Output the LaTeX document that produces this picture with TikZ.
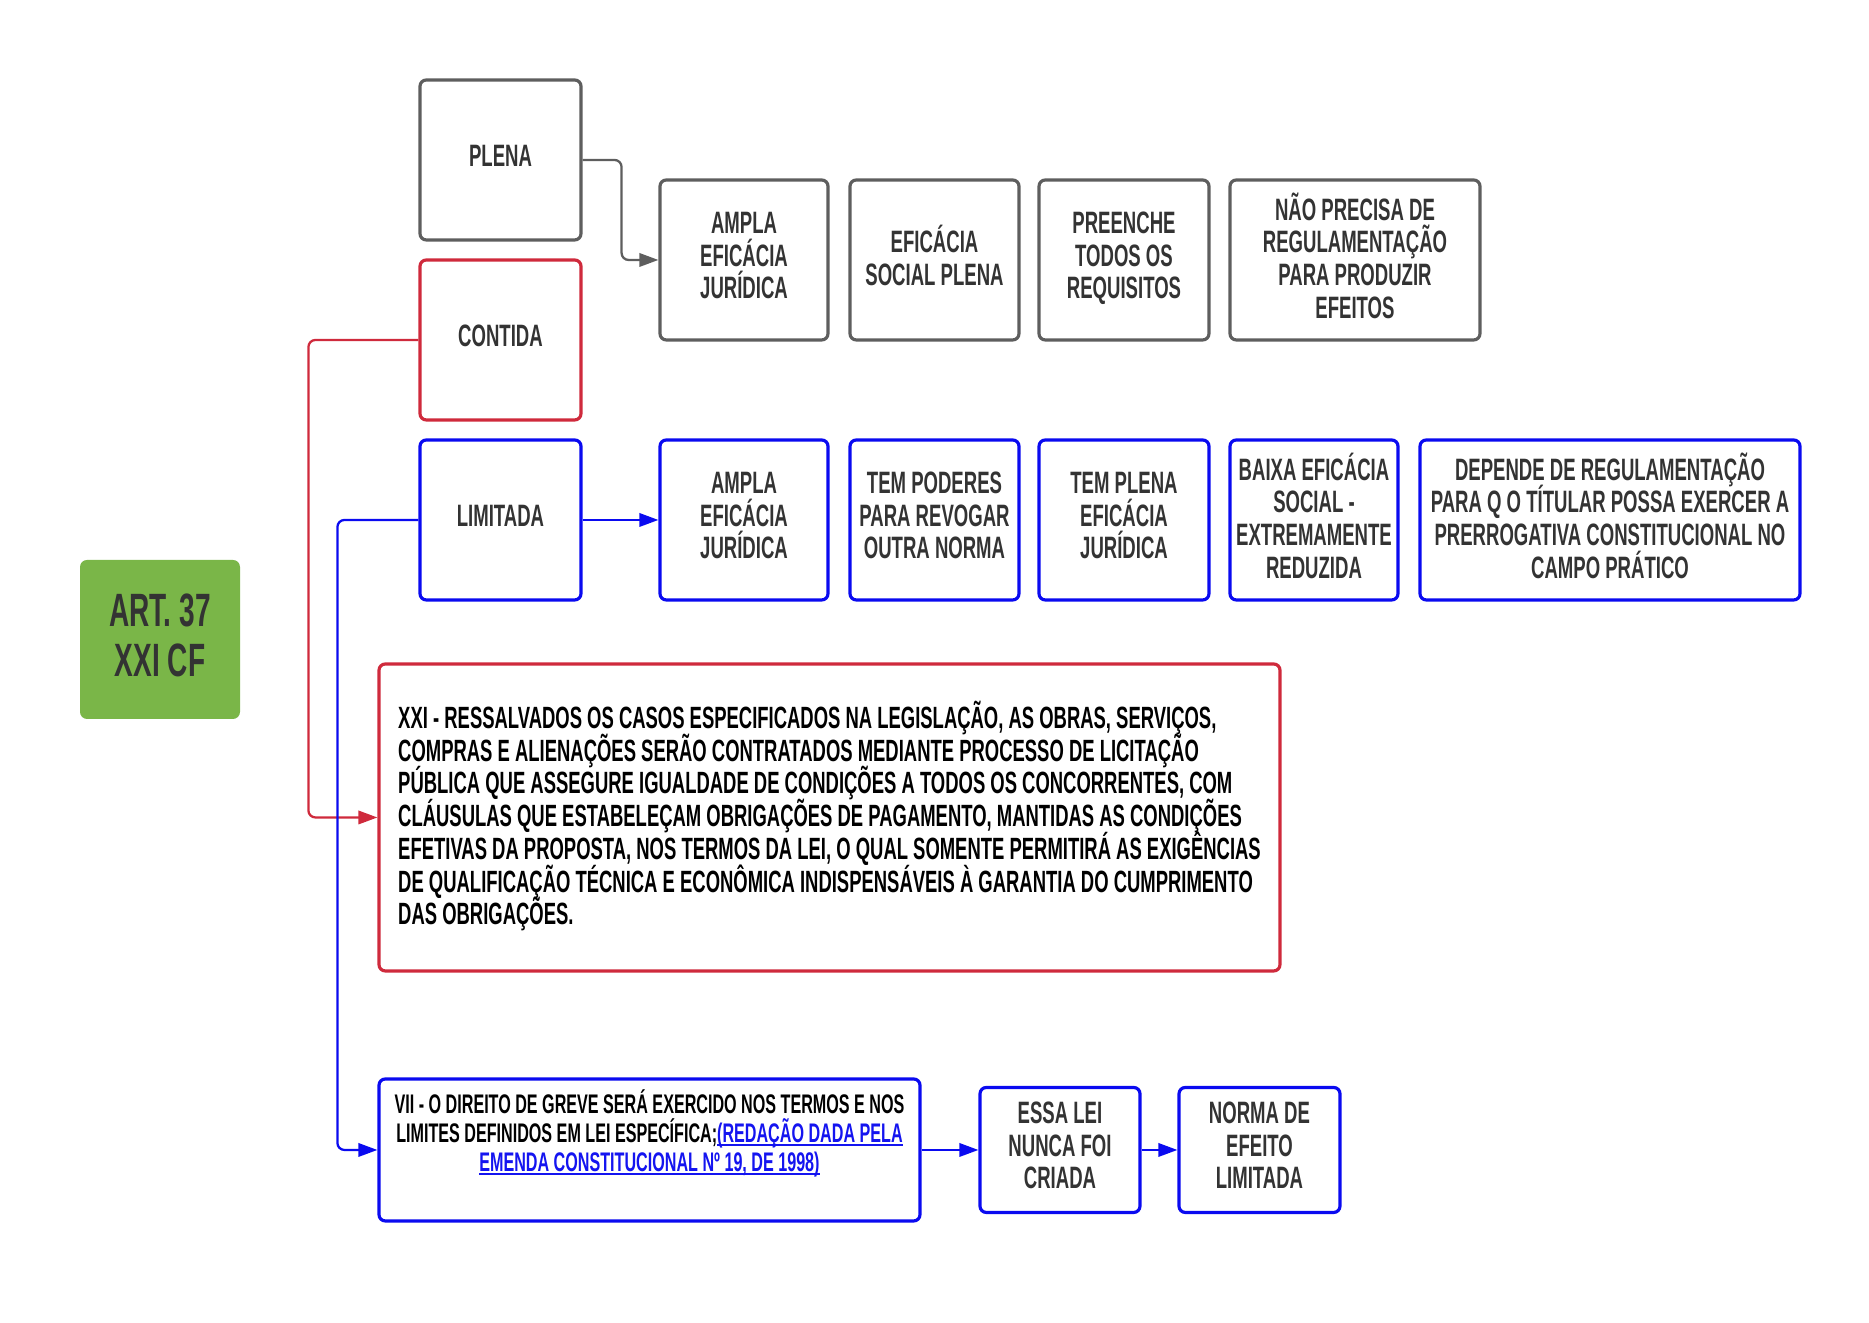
\documentclass[tikz,border=0pt]{standalone}
\usepackage{fontspec}
\setmainfont{Liberation Sans}[FakeStretch=0.6]
\usetikzlibrary{arrows.meta}

\definecolor{artGreen}{HTML}{7AB648}
\definecolor{boxGray}{HTML}{5E5E5E}
\definecolor{boxRed}{HTML}{CF2A3C}
\definecolor{boxBlue}{HTML}{0A0AF0}
\definecolor{txtGray}{HTML}{333333}
\definecolor{linkBlue}{HTML}{1414F0}

% fixed line pitch, even with accented capitals
\newcommand\tightlines{\lineskiplimit=-10pt\relax}
% underlined link text, rule just under the baseline
\newcommand\linktxt[1]{\setbox0\hbox{#1}\rlap{\rule[-1.1pt]{\wd0}{0.5pt}}\box0}

\begin{document}
\begin{tikzpicture}[
    box/.style={draw, line width=0.9pt, rounded corners=1.8pt, fill=white,
        align=center, inner sep=1pt, text=txtGray, text depth=2.6pt,
        font=\bfseries\fontsize{8.8}{9.3}\selectfont\tightlines},
    graybox/.style={box, draw=boxGray, minimum height=1.6cm},
    redbox/.style={box, draw=boxRed},
    bluebox/.style={box, draw=boxBlue},
    conn/.style={line width=0.65pt, rounded corners=2pt,
        -{Triangle[length=5.4pt, width=3.8pt]}},
    garr/.style={conn, boxGray},
    rarr/.style={conn, boxRed},
    barr/.style={conn, boxBlue},
]
\useasboundingbox (0, 0) rectangle (18.69, 13.23);

% --- Article ---
\node[fill=artGreen, rounded corners=2pt, text=txtGray, align=center,
      minimum width=1.6cm, minimum height=1.59cm, text depth=2.4pt,
      font=\bfseries\fontsize{13.3}{14}\selectfont]
    (art) at (1.60, 6.835) {ART. 37\\XXI CF};

% --- Kinds of norm (left column) ---
\node[graybox, minimum width=1.61cm] (plena) at (5.005, 11.63) {PLENA};
\node[redbox, minimum width=1.61cm, minimum height=1.6cm]
    (contida) at (5.005, 9.83) {CONTIDA};
\node[bluebox, minimum width=1.61cm, minimum height=1.6cm]
    (limitada) at (5.005, 8.03) {LIMITADA};

% --- Plena: characteristics ---
\node[graybox, minimum width=1.68cm] (pl1) at (7.44, 10.63)
    {AMPLA\\EFICÁCIA\\JURÍDICA};
\node[graybox, minimum width=1.69cm] (pl2) at (9.345, 10.63)
    {EFICÁCIA\\SOCIAL PLENA};
\node[graybox, minimum width=1.70cm] (pl3) at (11.24, 10.63)
    {PREENCHE\\TODOS OS\\REQUISITOS};
\node[graybox, minimum width=2.50cm] (pl4) at (13.55, 10.63)
    {NÃO PRECISA DE\\REGULAMENTAÇÃO\\PARA PRODUZIR\\EFEITOS};

% --- Limitada: characteristics ---
\node[bluebox, minimum width=1.68cm, minimum height=1.6cm] (li1) at (7.44, 8.03)
    {AMPLA\\EFICÁCIA\\JURÍDICA};
\node[bluebox, minimum width=1.69cm, minimum height=1.6cm] (li2) at (9.345, 8.03)
    {TEM PODERES\\PARA REVOGAR\\OUTRA NORMA};
\node[bluebox, minimum width=1.70cm, minimum height=1.6cm] (li3) at (11.24, 8.03)
    {TEM PLENA\\EFICÁCIA\\JURÍDICA};
\node[bluebox, minimum width=1.68cm, minimum height=1.6cm] (li4) at (13.14, 8.03)
    {BAIXA EFICÁCIA\\SOCIAL -\\EXTREMAMENTE\\REDUZIDA};
\node[bluebox, minimum width=3.80cm, minimum height=1.6cm] (li5) at (16.10, 8.03)
    {DEPENDE DE REGULAMENTAÇÃO\\PARA Q O TÍTULAR POSSA EXERCER A\\PRERROGATIVA CONSTITUCIONAL NO\\CAMPO PRÁTICO};

% --- Inciso XXI (contida) ---
\node[redbox, minimum width=9.01cm, minimum height=3.07cm, align=left,
      text=black, font=\bfseries\fontsize{8.75}{9.33}\selectfont\tightlines]
    (inciso) at (8.295, 5.055)
    {XXI - RESSALVADOS OS CASOS ESPECIFICADOS NA LEGISLAÇÃO, AS OBRAS, SERVIÇOS,\\
     COMPRAS E ALIENAÇÕES SERÃO CONTRATADOS MEDIANTE PROCESSO DE LICITAÇÃO\\
     PÚBLICA QUE ASSEGURE IGUALDADE DE CONDIÇÕES A TODOS OS CONCORRENTES, COM\\
     CLÁUSULAS QUE ESTABELEÇAM OBRIGAÇÕES DE PAGAMENTO, MANTIDAS AS CONDIÇÕES\\
     EFETIVAS DA PROPOSTA, NOS TERMOS DA LEI, O QUAL SOMENTE PERMITIRÁ AS EXIGÊNCIAS\\
     DE QUALIFICAÇÃO TÉCNICA E ECONÔMICA INDISPENSÁVEIS À GARANTIA DO CUMPRIMENTO\\
     DAS OBRIGAÇÕES.};

% --- Inciso VII (limitada) ---
\node[bluebox, minimum width=5.41cm, minimum height=1.42cm]
    (greve) at (6.495, 1.73) {};
\node[anchor=north, align=center, inner sep=0pt, text=black,
      font=\bfseries\fontsize{7.65}{8.2}\selectfont\tightlines]
    (grevetxt) at ([yshift=-0.115cm]greve.north)
    {VII - O DIREITO DE GREVE SERÁ EXERCIDO NOS TERMOS E NOS\\
     LIMITES DEFINIDOS EM LEI ESPECÍFICA;\textcolor{linkBlue}{\linktxt{(REDAÇÃO DADA PELA}}\\
     \textcolor{linkBlue}{\linktxt{EMENDA CONSTITUCIONAL Nº 19, DE 1998)}}};

\node[bluebox, minimum width=1.60cm, minimum height=1.25cm] (essa) at (10.60, 1.73)
    {ESSA LEI\\NUNCA FOI\\CRIADA};
\node[bluebox, minimum width=1.61cm, minimum height=1.25cm] (norma) at (12.595, 1.73)
    {NORMA DE\\EFEITO\\LIMITADA};

% --- Connectors ---
\draw[garr] (plena.east) -- ++(0.39, 0) |- (pl1.west);
\draw[rarr] (contida.west) -- ++(-1.10, 0) |- (inciso.west);
\draw[barr] (limitada.west) -- ++(-0.81, 0) |- (greve.west);
\draw[barr] (limitada.east) -- (li1.west);
\draw[barr] (greve.east) -- (essa.west);
\draw[barr] (essa.east) -- (norma.west);

\end{tikzpicture}
\end{document}
